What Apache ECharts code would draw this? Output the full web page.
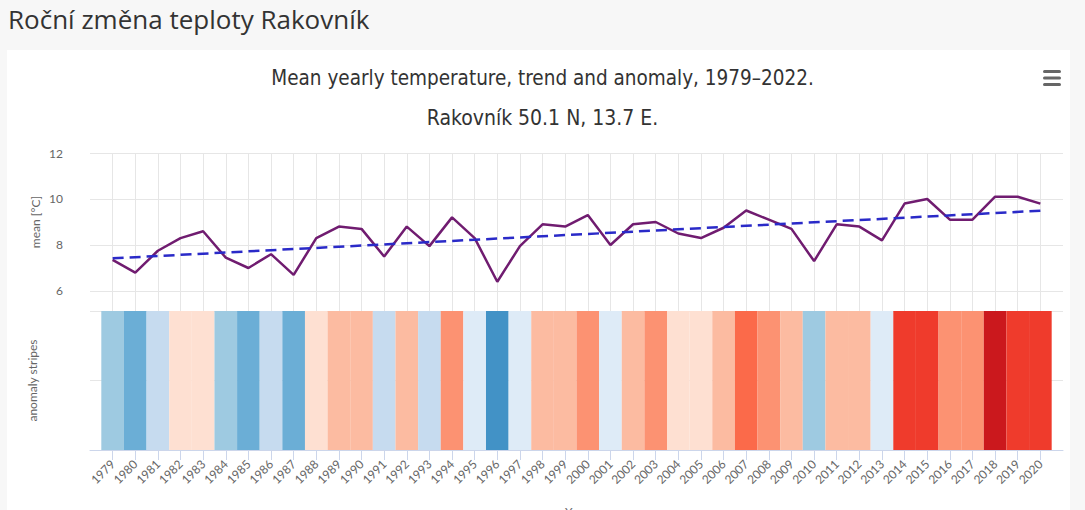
<!DOCTYPE html>
<html>
<head>
<meta charset="utf-8">
<script src="https://cdn.jsdelivr.net/npm/echarts@6/dist/echarts.min.js"></script>
<style>
  html, body { margin: 0; padding: 0; background: #f7f7f7; }
  #chart { width: 1085px; height: 510px; }
</style>
</head>
<body>
<div id="chart"></div>
<script>
// ---- data ----
const years = ['1979','1980','1981','1982','1983','1984','1985','1986','1987','1988',
  '1989','1990','1991','1992','1993','1994','1995','1996','1997','1998',
  '1999','2000','2001','2002','2003','2004','2005','2006','2007','2008',
  '2009','2010','2011','2012','2013','2014','2015','2016','2017','2018',
  '2019','2020'];
const meanTemp = [7.35, 6.8, 7.75, 8.3, 8.6, 7.45, 7.0, 7.6, 6.7, 8.3,
  8.8, 8.7, 7.5, 8.8, 7.95, 9.2, 8.3, 6.4, 7.95, 8.9,
  8.8, 9.3, 8.0, 8.9, 9.0, 8.5, 8.3, 8.75, 9.5, 9.1,
  8.7, 7.3, 8.9, 8.8, 8.2, 9.8, 10.0, 9.1, 9.1, 10.1,
  10.1, 9.8];
const trendYears = ['1979', '2020'];
const trendValues = [7.42, 9.49];
// anomaly class per year: negative = colder (blue), positive = warmer (red)
const anomalyClass = [-3, -4, -2, 1, 1, -3, -4, -2, -4, 1,
  2, 2, -2, 2, -2, 3, -1, -5, -1, 2,
  2, 3, -1, 2, 3, 1, 1, 2, 4, 3,
  2, -3, 2, 2, -1, 5, 5, 3, 3, 6,
  5, 5];
const yTicks = [6, 8, 10, 12];

// ---- styling ----
const palette = {
  '-5': '#4292c6', '-4': '#6baed6', '-3': '#9ecae1', '-2': '#c6dbef', '-1': '#deebf7',
  '1': '#fee0d2', '2': '#fcbba1', '3': '#fc9272', '4': '#fb6a4a', '5': '#ef3b2c', '6': '#cb181d'
};
const axisCats = [''].concat(years, ['']);
const labelFont = 'Lato, "DejaVu Sans", sans-serif';
const titleFont = '"DejaVu Sans Condensed", "DejaVu Sans", sans-serif';
const notPad = (i, v) => v !== '';

const chart = echarts.init(document.getElementById('chart'), null, { renderer: 'svg' });
chart.setOption({
  backgroundColor: '#f7f7f7',
  animation: false,
  title: [
    { text: 'Roční změna teploty Rakovník', left: 3, top: 1,
      textStyle: { fontFamily: '"Open Sans", sans-serif', fontSize: 26, fontWeight: 'normal', color: '#333' } },
    { text: 'Mean yearly temperature, trend and anomaly, 1979–2022.', left: 'center', top: 62,
      textStyle: { fontFamily: titleFont, fontSize: 20.5, fontWeight: 'normal', color: '#333' } },
    { text: 'Rakovník 50.1 N, 13.7 E.', left: 'center', top: 102,
      textStyle: { fontFamily: titleFont, fontSize: 21, fontWeight: 'normal', color: '#333' } }
  ],
  graphic: [
    { type: 'rect', z: -10, shape: { x: 7, y: 50, width: 1063, height: 470 }, style: { fill: '#ffffff' } },
    { type: 'rect', shape: { x: 1043, y: 70, width: 18, height: 3, r: 1.5 }, style: { fill: '#666' } },
    { type: 'rect', shape: { x: 1043, y: 76.5, width: 18, height: 3, r: 1.5 }, style: { fill: '#666' } },
    { type: 'rect', shape: { x: 1043, y: 83, width: 18, height: 3, r: 1.5 }, style: { fill: '#666' } },
    { type: 'text', x: 35, y: 222, rotation: Math.PI / 2,
      style: { text: 'mean [°C]', textAlign: 'center', textVerticalAlign: 'middle', fill: '#666', font: '12px ' + labelFont } }
  ],
  grid: [
    { left: 90, right: 22, top: 153, height: 158, outerBoundsMode: 'none', containLabel: false },
    { left: 90, right: 22, top: 311, height: 139, outerBoundsMode: 'none', containLabel: false }
  ],
  xAxis: [
    { type: 'category', gridIndex: 0, data: axisCats, boundaryGap: false,
      axisLine: { show: false }, axisTick: { show: false }, axisLabel: { show: false },
      splitLine: { show: true, interval: notPad, lineStyle: { color: '#e6e6e6', width: 1 } } },
    { type: 'category', gridIndex: 1, data: axisCats, boundaryGap: false,
      name: 'Year', nameLocation: 'middle', nameGap: 55,
      nameTextStyle: { color: '#666', fontSize: 12, fontFamily: labelFont },
      axisLine: { show: true, lineStyle: { color: '#ccd6eb', width: 1 } },
      axisTick: { show: true, length: 10, interval: notPad, lineStyle: { color: '#ccd6eb' } },
      axisLabel: { interval: 0, rotate: 45, margin: 12, color: '#666', fontSize: 12, fontFamily: labelFont },
      splitLine: { show: false } }
  ],
  yAxis: [
    { type: 'value', gridIndex: 0, min: 5.13, max: 12, splitNumber: 3,
      axisLine: { show: false }, axisTick: { show: false },
      axisLabel: { margin: 27, color: '#666', fontSize: 12, fontFamily: labelFont,
        formatter: v => (yTicks.indexOf(Math.round(v * 100) / 100) >= 0 ? String(v) : '') },
      splitLine: { show: true, lineStyle: { color: '#e6e6e6', width: 1 } } },
    { type: 'value', gridIndex: 1, min: 0, max: 2, interval: 1,
      name: 'anomaly stripes', nameLocation: 'middle', nameGap: 52,
      nameTextStyle: { color: '#666', fontSize: 12, fontFamily: labelFont },
      axisLine: { show: false }, axisTick: { show: false }, axisLabel: { show: false },
      splitLine: { show: true, lineStyle: { color: '#e6e6e6', width: 1 } } }
  ],
  series: [
    { type: 'bar', xAxisIndex: 1, yAxisIndex: 1, barWidth: '100%', barCategoryGap: 0,
      data: ['-'].concat(years.map((y, i) => ({ value: 2, itemStyle: { color: palette[String(anomalyClass[i])] } })), ['-']) },
    { type: 'line', xAxisIndex: 0, yAxisIndex: 0, symbol: 'none', z: 3,
      lineStyle: { color: '#701c70', width: 2.5 },
      data: ['-'].concat(meanTemp, ['-']) },
    { type: 'line', xAxisIndex: 0, yAxisIndex: 0, symbol: 'none', z: 4,
      lineStyle: { color: '#2a2ac8', width: 2.5, type: [11, 6] },
      data: trendYears.map((y, i) => [y, trendValues[i]]) }
  ]
});
</script>
</body>
</html>
